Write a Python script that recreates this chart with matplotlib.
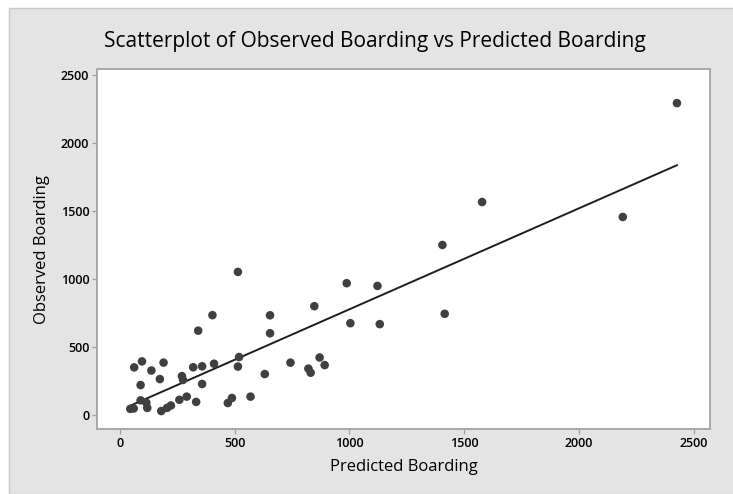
import numpy as np
import matplotlib
matplotlib.use("Agg")
import matplotlib.pyplot as plt
from matplotlib import font_manager
from matplotlib.patches import Rectangle

# Predicted vs observed boardings per station
predicted = [45, 60, 62, 96, 90, 90, 115, 119, 137, 174, 190, 180, 205, 222,
             259, 270, 275, 291, 332, 319, 341, 358, 358, 403, 410, 470, 488,
             514, 519, 514, 569, 631, 654, 654, 743, 821, 831, 847, 870, 892,
             988, 1004, 1122, 1132, 1405, 1415, 1578, 2191, 2427]
observed = [45, 48, 350, 394, 220, 108, 90, 52, 327, 264, 385, 29, 52, 70,
            112, 286, 258, 135, 96, 351, 620, 358, 228, 734, 377, 88, 125,
            1052, 426, 356, 135, 301, 733, 601, 385, 341, 311, 800, 423, 367,
            969, 675, 949, 668, 1250, 744, 1566, 1456, 2293]

x_ticks = [0, 500, 1000, 1500, 2000, 2500]
y_ticks = [0, 500, 1000, 1500, 2000, 2500]

title = "Scatterplot of Observed Boarding vs Predicted Boarding"
x_label = "Predicted Boarding"
y_label = "Observed Boarding"

available = {f.name for f in font_manager.fontManager.ttflist}
family = next((n for n in ["Open Sans", "Noto Sans", "DejaVu Sans"] if n in available),
              "DejaVu Sans")
plt.rcParams["font.family"] = family

fig = plt.figure(figsize=(7.33, 4.94), dpi=100, facecolor="white")

# grey panel behind the graph
fig.patches.append(Rectangle((9 / 733, 0), 1, 1 - 8 / 494, transform=fig.transFigure,
                             facecolor="#E4E4E4", edgecolor="#C8C8C8", linewidth=1.0,
                             zorder=-5))

ax = fig.add_axes([97 / 733, 65 / 494, 613 / 733, 360 / 494])
ax.set_zorder(2)
ax.set_facecolor("white")

px = np.array(predicted, dtype=float)
oy = np.array(observed, dtype=float)
ax.scatter(px, oy, s=38, color="#404040", edgecolors="none", zorder=3)

# least-squares fit line
slope, intercept = np.polyfit(px, oy, 1)
xl = np.array([px.min(), px.max()])
ax.plot(xl, intercept + slope * xl, color="#1E1E1E", linewidth=1.4, zorder=2)

ax.set_xlim(-100, 2571)
ax.set_ylim(-103, 2544)
ax.set_xticks(x_ticks)
ax.set_yticks(y_ticks)
ax.tick_params(axis="both", length=3.5, width=0.9, color="#A0A0A0",
               labelsize=9, labelcolor="#000000", pad=2)
for lab in ax.get_xticklabels() + ax.get_yticklabels():
    lab.set_fontweight("semibold")

for sp in ax.spines.values():
    sp.set_color("#A8A8A8")
    sp.set_linewidth(1.4)

fig.text(375 / 733, 1 - 42 / 494, title, ha="center", va="center",
         fontsize=15, color="#000000", zorder=3)
fig.text(404 / 733, 1 - 467 / 494, x_label, ha="center", va="center",
         fontsize=12, color="#000000", zorder=3)
fig.text(42 / 733, 1 - 249 / 494, y_label, ha="center", va="center",
         rotation=90, fontsize=12, color="#000000", zorder=3)

fig.savefig("out.png", dpi=100, facecolor="white")
